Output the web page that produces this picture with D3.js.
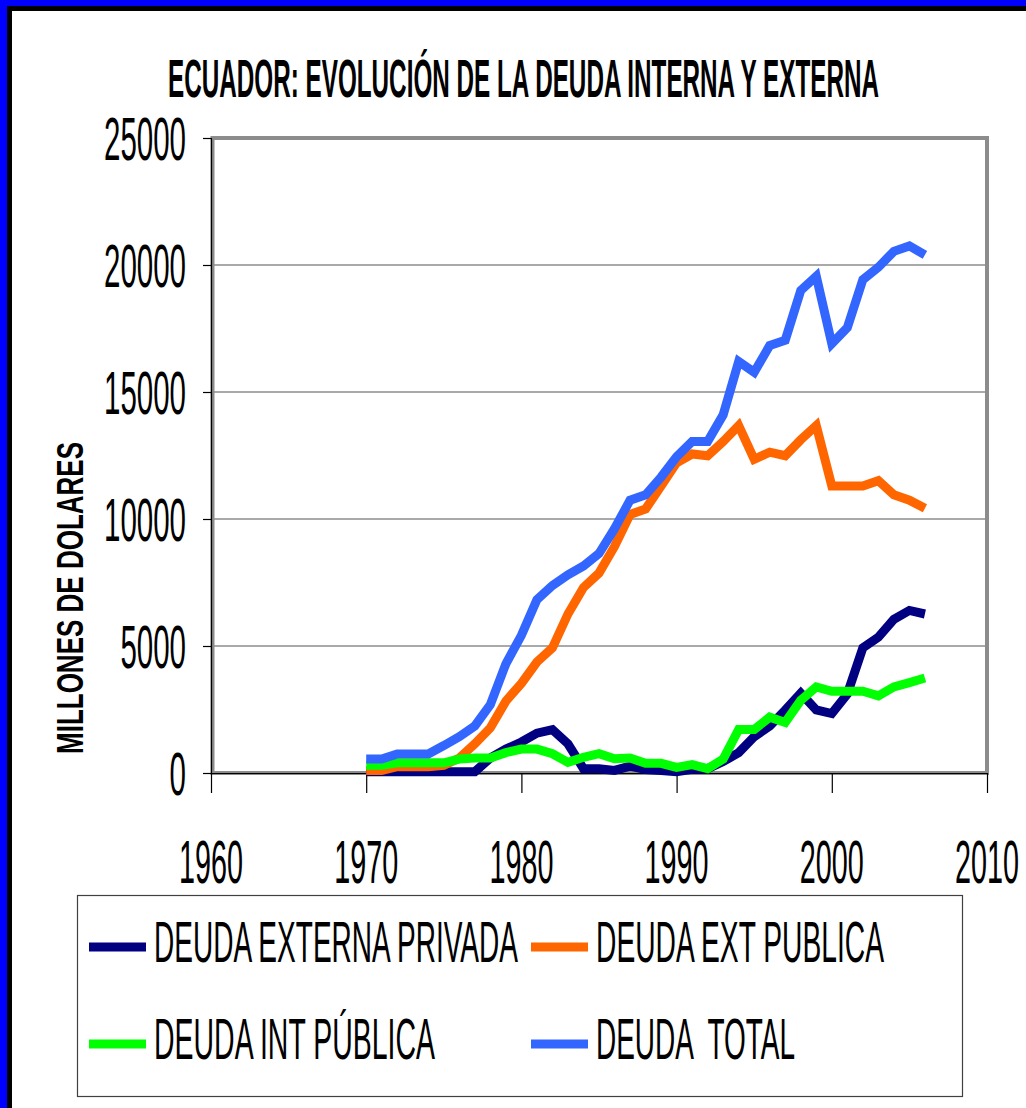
<!DOCTYPE html>
<html>
<head>
<meta charset="utf-8">
<script src="https://cdn.jsdelivr.net/npm/d3@7"></script>
<style>
  body { margin: 0; padding: 0; background: #fff; }
  svg { display: block; }
  text { font-family: "Liberation Sans Narrow", "Liberation Sans", Arial, sans-serif; fill: #000; }
</style>
</head>
<body>
<svg id="chart" width="1026" height="1108"></svg>
<script>
const W = 1026, H = 1108;

// Data (millones de dolares)
const years = [1970,1971,1972,1973,1974,1975,1976,1977,1978,1979,1980,1981,1982,1983,1984,1985,1986,1987,1988,
  1989,1990,1991,1992,1993,1994,1995,1996,1997,1998,1999,2000,2001,2002,2003,2004,2005,2006];
const extPrivada = [50,50,50,50,50,50,50,50,590,940,1220,1570,1710,1150,170,170,100,270,140,100,50,
  150,170,450,800,1430,1850,2480,3140,2480,2340,3110,4930,5350,6050,6400,6260];
const extPublica = [100,100,250,250,250,300,590,1150,1780,2830,3530,4370,4930,6260,7300,7870,8920,10180,10390,11300,12210,
  12560,12490,13050,13680,12350,12630,12490,13120,13680,11300,11300,11300,11510,10950,10740,10420];
const intPublica = [310,310,400,400,400,400,550,590,590,800,940,940,760,420,620,760,560,590,380,380,220,
  330,170,550,1710,1710,2200,1990,2860,3390,3220,3220,3220,3040,3390,3560,3740];
const total = [550,550,750,750,750,1080,1430,1850,2690,4300,5420,6820,7380,7800,8150,8640,9620,10740,10950,11650,12450,
  13050,13050,14100,16200,15780,16830,17040,19000,19560,16900,17530,19420,19910,20540,20750,20400];

const seriesNames = ["DEUDA EXTERNA PRIVADA", "DEUDA EXT PUBLICA", "DEUDA INT PÚBLICA", "DEUDA  TOTAL"];
const seriesColors = ["#000080", "#ff6600", "#00ff00", "#3366ff"];
const seriesValues = [extPrivada, extPublica, intPublica, total];

const xTicks = [1960, 1970, 1980, 1990, 2000, 2010];
const yTicks = [0, 5000, 10000, 15000, 20000, 25000];

const svg = d3.select("#chart");

// frame: blue outer, black inner, white page
svg.append("rect").attr("width", W).attr("height", H).attr("fill", "#0000ff");
svg.append("rect").attr("x", 7).attr("y", 6).attr("width", W).attr("height", H).attr("fill", "#000");
svg.append("rect").attr("x", 12).attr("y", 11).attr("width", W).attr("height", H).attr("fill", "#fff");

const x = d3.scaleLinear().domain([1960, 2010]).range([211, 987]);
const y = d3.scaleLinear().domain([0, 25000]).range([773, 138]);

// title
svg.append("text")
  .attr("x", 168).attr("y", 97)
  .attr("font-size", 54).attr("font-weight", "bold")
  .attr("textLength", 711).attr("lengthAdjust", "spacingAndGlyphs")
  .text("ECUADOR: EVOLUCIÓN DE LA DEUDA INTERNA Y EXTERNA");

// y axis title
svg.append("text")
  .attr("transform", "translate(83,598) rotate(-90)")
  .attr("text-anchor", "middle")
  .attr("font-size", 37).attr("font-weight", "bold")
  .attr("textLength", 312).attr("lengthAdjust", "spacingAndGlyphs")
  .text("MILLONES DE DOLARES");

// gridlines
svg.append("g").selectAll("line")
  .data(yTicks.filter(d => d > 0 && d < 25000))
  .join("line")
  .attr("x1", x(1960)).attr("x2", x(2010))
  .attr("y1", d => y(d)).attr("y2", d => y(d))
  .attr("stroke", "#555").attr("stroke-width", 1.2);

// plot area border (gray, Excel style)
svg.append("rect")
  .attr("x", x(1960) + 1.5).attr("y", y(25000))
  .attr("width", x(2010) - x(1960) - 1.5).attr("height", y(0) - y(25000))
  .attr("fill", "none").attr("stroke", "#8c8c8c").attr("stroke-width", 4);

// axes
const yAxis = d3.axisLeft(y).tickValues(yTicks).tickSize(8).tickFormat("");
const gy = svg.append("g").attr("transform", `translate(${x(1960)},0)`).call(yAxis);
gy.select(".domain").attr("stroke", "#000").attr("stroke-width", 1.2);
gy.selectAll(".tick line").attr("stroke", "#000").attr("stroke-width", 1.2);

const xAxis = d3.axisBottom(x).tickValues(xTicks).tickSize(20).tickSizeOuter(0).tickFormat("");
const gx = svg.append("g").attr("transform", `translate(0,${y(0)})`).call(xAxis);
gx.select(".domain").attr("stroke", "#000").attr("stroke-width", 1.2);
gx.selectAll(".tick line").attr("stroke", "#000").attr("stroke-width", 1.2);

// tick labels
svg.append("g").selectAll("text")
  .data(yTicks).join("text")
  .attr("x", 186).attr("y", d => y(d) + 22)
  .attr("text-anchor", "end")
  .attr("font-size", 61)
  .attr("textLength", d => String(d).length * 16.4).attr("lengthAdjust", "spacingAndGlyphs")
  .text(d => d);

svg.append("g").selectAll("text")
  .data(xTicks).join("text")
  .attr("x", d => x(d)).attr("y", 883)
  .attr("text-anchor", "middle")
  .attr("font-size", 61)
  .attr("textLength", 64).attr("lengthAdjust", "spacingAndGlyphs")
  .text(d => d);

// series lines
const line = d3.line().x((d, i) => x(years[i])).y(d => y(d));
svg.append("g").selectAll("path")
  .data(seriesValues).join("path")
  .attr("d", d => line(d))
  .attr("fill", "none")
  .attr("stroke", (d, i) => seriesColors[i])
  .attr("stroke-width", 9)
  .attr("stroke-linejoin", "miter").attr("stroke-miterlimit", 3);

// legend
const legend = svg.append("g");
legend.append("rect")
  .attr("x", 77.5).attr("y", 895.5).attr("width", 885).attr("height", 201)
  .attr("fill", "#fff").attr("stroke", "#404040").attr("stroke-width", 1.2);

const legendPos = [
  {lx: 89, tx: 154, y: 947, w: 364},
  {lx: 531, tx: 596, y: 947, w: 288},
  {lx: 89, tx: 154, y: 1044, w: 281},
  {lx: 531, tx: 596, y: 1044, w: 199}
];
const item = legend.selectAll("g.item").data(seriesNames).join("g").attr("class", "item");
item.append("line")
  .attr("x1", (d, i) => legendPos[i].lx).attr("x2", (d, i) => legendPos[i].lx + 57)
  .attr("y1", (d, i) => legendPos[i].y).attr("y2", (d, i) => legendPos[i].y)
  .attr("stroke", (d, i) => seriesColors[i]).attr("stroke-width", 9);
item.append("text")
  .attr("x", (d, i) => legendPos[i].tx).attr("y", (d, i) => legendPos[i].y + 15)
  .attr("font-size", 58)
  .style("white-space", "pre")
  .attr("textLength", (d, i) => legendPos[i].w).attr("lengthAdjust", "spacingAndGlyphs")
  .text(d => d);
</script>
</body>
</html>
